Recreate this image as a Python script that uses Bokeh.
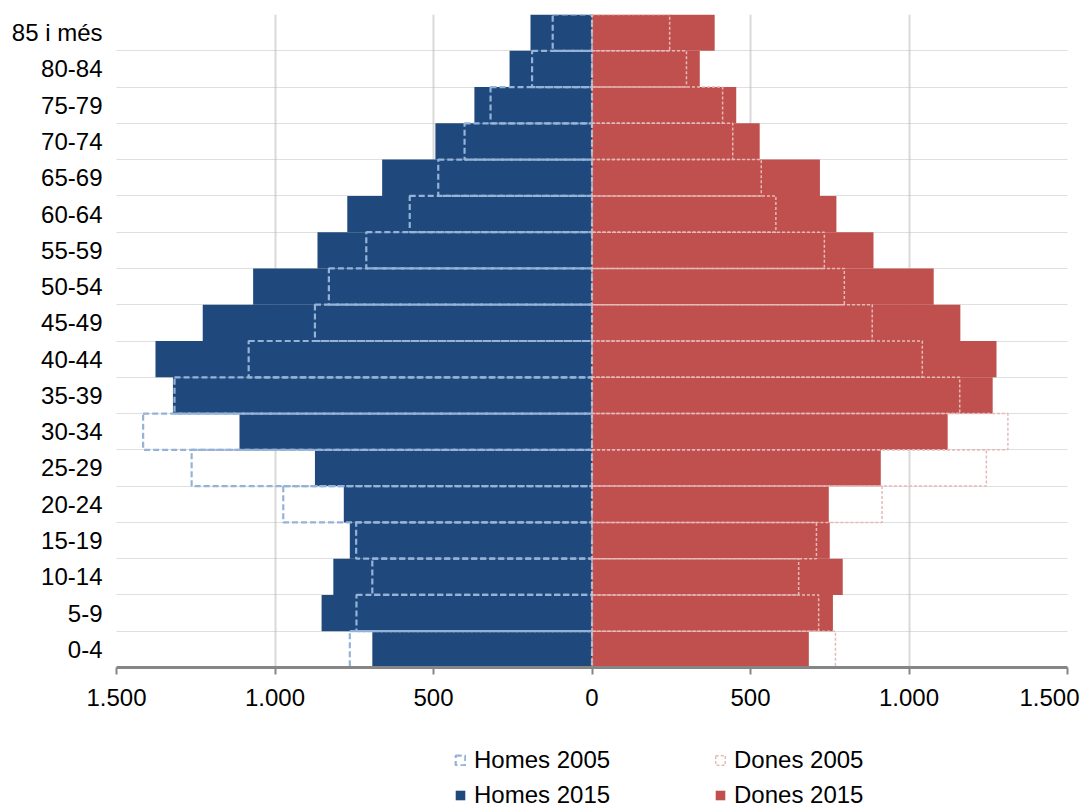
from bokeh.plotting import figure
from bokeh.layouts import column
from bokeh.models import (FixedTicker, CustomJSTickFormatter, Legend, LegendItem,
                          ColumnDataSource, Range1d)
from bokeh.embed import file_html
from bokeh.resources import INLINE

categories = ["0-4", "5-9", "10-14", "15-19", "20-24", "25-29", "30-34", "35-39",
              "40-44", "45-49", "50-54", "55-59", "60-64", "65-69", "70-74",
              "75-79", "80-84", "85 i més"]
homes_2015 = [693, 853, 816, 764, 783, 874, 1112, 1322, 1377, 1228, 1069, 866,
              772, 662, 494, 371, 260, 194]
homes_2005 = [764, 743, 693, 744, 974, 1263, 1416, 1317, 1083, 874, 830, 712,
              575, 485, 402, 320, 189, 124]
dones_2015 = [684, 760, 791, 750, 747, 911, 1122, 1264, 1276, 1162, 1078, 888,
              771, 719, 529, 455, 340, 387]
dones_2005 = [768, 715, 652, 708, 915, 1244, 1312, 1160, 1042, 884, 796, 733,
              580, 534, 444, 412, 298, 245]
x_ticks = [-1500, -1000, -500, 0, 500, 1000, 1500]
series_labels = ["Homes 2005", "Dones 2005", "Homes 2015", "Dones 2015"]

FONT = "Liberation Sans"
FS = "24px"
n = len(categories)
ypos = [i + 0.5 for i in range(n)]

src = ColumnDataSource(dict(
    y=ypos,
    h15=[-v for v in homes_2015],
    h05=[-v for v in homes_2005],
    d15=dones_2015,
    d05=dones_2005,
    zero=[0] * n,
))

STY_H15 = dict(fill_color="#1F497D", line_color=None)
STY_D15 = dict(fill_color="#C0504D", line_color=None)
STY_H05 = dict(fill_alpha=0, line_color="#95B3D7", line_width=2.2, line_dash="6 3")
STY_D05 = dict(fill_alpha=0, line_color="#E6B9B8", line_width=1.5, line_dash="3 2")


def draw_bars(fig, visible=True):
    r_h15 = fig.hbar(y="y", left="h15", right="zero", height=1, source=src,
                     visible=visible, **STY_H15)
    r_d15 = fig.hbar(y="y", left="zero", right="d15", height=1, source=src,
                     visible=visible, **STY_D15)
    r_h05 = fig.hbar(y="y", left="h05", right="zero", height=1, source=src,
                     visible=visible, **STY_H05)
    r_d05 = fig.hbar(y="y", left="zero", right="d05", height=1, source=src,
                     visible=visible, **STY_D05)
    return r_h05, r_d05, r_h15, r_d15


p = figure(width=1079, height=717, output_backend="svg", toolbar_location=None,
           x_range=Range1d(-1500, 1500), y_range=Range1d(0, n),
           min_border_left=116, min_border_right=12, min_border_top=14,
           min_border_bottom=50)
p.outline_line_color = None
p.background_fill_color = "white"
draw_bars(p)

# x axis
p.xaxis.ticker = FixedTicker(ticks=x_ticks)
p.xaxis.formatter = CustomJSTickFormatter(code="""
    const v = Math.abs(tick);
    return v.toString().replace(/\\B(?=(\\d{3})+(?!\\d))/g, '.');
""")
p.xaxis.axis_line_color = "#868686"
p.xaxis.axis_line_width = 3
p.xaxis.major_tick_line_color = "#868686"
p.xaxis.major_tick_line_width = 2
p.xaxis.major_tick_out = 7
p.xaxis.major_tick_in = 0
p.xaxis.minor_tick_line_color = None
p.xaxis.major_label_text_font = FONT
p.xaxis.major_label_text_font_size = FS
p.xaxis.major_label_text_color = "black"
p.xaxis.major_label_standoff = 14

# y axis
p.yaxis.ticker = FixedTicker(ticks=ypos)
p.yaxis.major_label_overrides = {ypos[i]: categories[i] for i in range(n)}
p.yaxis.axis_line_color = None
p.yaxis.major_tick_line_color = None
p.yaxis.minor_tick_line_color = None
p.yaxis.major_label_text_font = FONT
p.yaxis.major_label_text_font_size = FS
p.yaxis.major_label_text_color = "black"
p.yaxis.major_label_standoff = 8

# grids
p.xgrid.ticker = FixedTicker(ticks=x_ticks)
p.xgrid.grid_line_color = "#D9D9D9"
p.xgrid.grid_line_width = 2
p.ygrid.ticker = FixedTicker(ticks=list(range(1, n + 1)))
p.ygrid.grid_line_color = "#BFBFBF"
p.ygrid.grid_line_width = 1
p.ygrid.grid_line_dash = "1 1"

# legend strip (same styles; its bar renderers are hidden, only the legend shows)
lg = figure(width=1079, height=90, output_backend="svg", toolbar_location=None,
            x_range=Range1d(-1500, 1500), y_range=Range1d(0, n),
            x_axis_type=None, y_axis_type=None,
            min_border_left=0, min_border_right=0, min_border_top=0,
            min_border_bottom=0)
lg.outline_line_color = None
lg.grid.visible = False
rs = draw_bars(lg, visible=False)

legend = Legend(items=[LegendItem(label=lab, renderers=[r])
                       for lab, r in zip(series_labels, rs)],
                orientation="horizontal", ncols=2, location=(338, -2))
legend.click_policy = "none"
legend.inactive_fill_alpha = 0
legend.label_text_font = FONT
legend.label_text_font_size = FS
legend.label_text_color = "black"
legend.glyph_width = 12
legend.glyph_height = 12
legend.label_standoff = 8
legend.label_width = 233
legend.label_height = 26
legend.spacing = 7
legend.padding = 0
legend.margin = 0
legend.border_line_color = None
legend.background_fill_alpha = 0
lg.add_layout(legend)

layout = column(p, lg, spacing=0)
open("out.html", "w").write(file_html(layout, INLINE))
